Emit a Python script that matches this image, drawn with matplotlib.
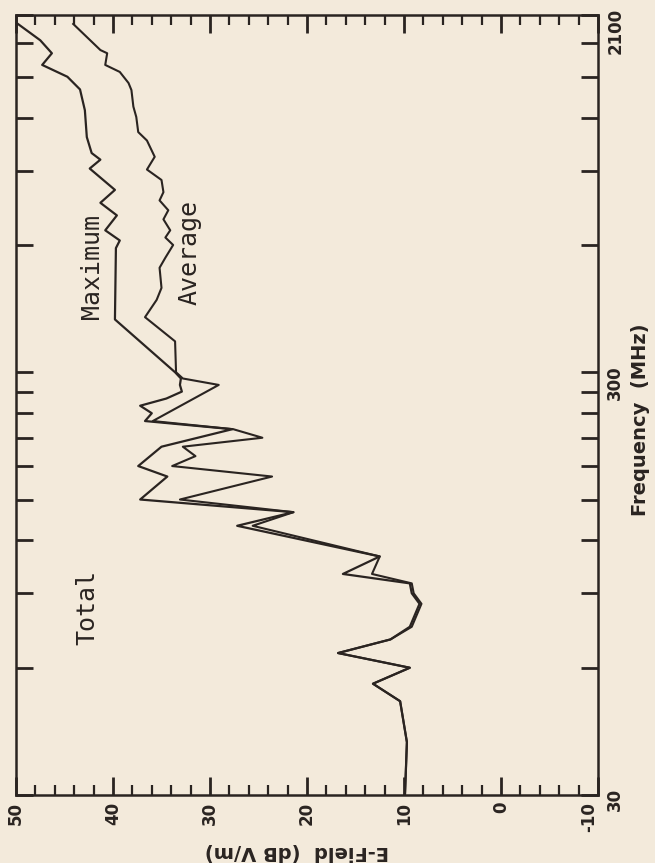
import matplotlib

matplotlib.use("Agg")
import matplotlib.pyplot as plt
from matplotlib.ticker import FixedLocator, NullLocator

# frequency (MHz) / E-field (dB V/m)
FREQ_MAX = [30, 40, 50, 55, 60, 65, 70, 75, 85, 90, 95, 100, 110, 130, 140, 150, 170, 180, 200, 220,
            230, 240, 250, 260, 270, 280, 290, 300, 400, 590, 615, 650, 705, 755, 810, 910, 955, 990,
            1080, 1250, 1400, 1500, 1600, 1705, 1830, 2000]
E_MAX = [9.9, 9.7, 10.4, 13.2, 9.4, 16.8, 11.4, 9.4, 8.4, 9.2, 9.4, 16.3, 12.5, 27.2, 21.4, 37.2, 34.4, 37.4, 35.0, 27.7,
         36.7, 36.0, 37.2, 34.5, 32.9, 33.1, 33.0, 33.6, 39.8, 39.7, 39.3, 40.8, 39.6, 41.3, 39.8, 42.4, 41.3, 42.2,
         42.7, 42.9, 43.4, 44.7, 47.3, 46.3, 47.5, 49.8]

FREQ_AVG = [30, 40, 50, 55, 60, 65, 70, 75, 85, 90, 95, 100, 110, 130, 140, 150, 170, 180, 190, 200, 210, 220,
            230, 280, 290, 300, 355, 380, 405, 445, 475, 530, 560, 600, 625, 650, 690, 725, 765, 800, 855, 905,
            970, 1060, 1110, 1205, 1275, 1395, 1450, 1540, 1600, 1705, 1735, 2000]
E_AVG = [9.9, 9.7, 10.4, 13.2, 9.4, 16.8, 11.4, 9.2, 8.2, 9.0, 9.2, 13.3, 12.5, 25.6, 21.4, 33.1, 23.6, 33.9, 31.5, 32.8, 24.6, 27.6,
         35.9, 29.1, 32.8, 33.5, 33.6, 35.2, 36.7, 35.5, 35.0, 35.2, 34.6, 33.8, 34.6, 34.1, 34.8, 34.3, 35.2, 34.8, 35.0, 36.5,
         35.7, 36.5, 37.4, 37.6, 37.9, 38.1, 38.4, 39.3, 40.8, 40.6, 41.3, 44.1]

E_TICKS = [50, 40, 30, 20, 10, 0, -10]
FREQ_TICKS = [30, 60, 90, 120, 150, 180, 210, 240, 270, 300, 600, 900, 1200, 1500, 1800, 2100]
FREQ_LABELS = {30: "30", 300: "300", 2100: "2100"}

INK = "#2a2421"
PAPER = "#f3eadb"
W, H = 655, 863

fig = plt.figure(figsize=(W / 100, H / 100), dpi=100)
fig.patch.set_facecolor(PAPER)
# page is turned a quarter: E-field runs along the bottom, frequency up the right side
ax = fig.add_axes([16 / W, 1 - 795 / H, (598 - 16) / W, (795 - 15) / H])
ax.set_facecolor(PAPER)

ax.plot(E_MAX, FREQ_MAX, color=INK, linewidth=1.6)
ax.plot(E_AVG, FREQ_AVG, color=INK, linewidth=1.5)

ax.set_yscale("log")
ax.set_xlim(50, -10)
ax.set_ylim(30, 2100)

ax.xaxis.set_major_locator(FixedLocator(E_TICKS))
ax.xaxis.set_minor_locator(FixedLocator(list(range(-10, 51, 2))))
ax.yaxis.set_major_locator(FixedLocator(FREQ_TICKS))
ax.yaxis.set_minor_locator(NullLocator())

tick_font = dict(family="DejaVu Sans", weight="bold", size=12)
ax.set_xticklabels([str(v) for v in E_TICKS], rotation=90, color=INK, **tick_font)
ax.set_yticklabels([FREQ_LABELS.get(v, "") for v in FREQ_TICKS], rotation=90, color=INK, **tick_font)

xlabels = ax.get_xticklabels()
xlabels[-1].set_ha("right")
for lab in ax.get_yticklabels():
    lab.set_va("center")
ax.get_yticklabels()[-1].set_va("top")

ax.tick_params(axis="both", which="both", direction="in", top=True, bottom=True, left=True, right=True,
               labelleft=False, labelright=True, labeltop=False, labelbottom=True, color=INK)
ax.tick_params(axis="x", which="major", length=13, width=2.0, pad=5)
ax.tick_params(axis="x", which="minor", length=7, width=1.6)
ax.tick_params(axis="y", which="major", length=12, width=2.0, pad=6)

for s in ax.spines.values():
    s.set_color(INK)
    s.set_linewidth(1.8)

note_font = dict(family="DejaVu Sans Mono", size=18, color=INK, rotation=90, ha="center", va="center")
ax.text(0.122, 0.240, "Total", transform=ax.transAxes, **note_font)
ax.text(0.130, 0.677, "Maximum", transform=ax.transAxes, **note_font)
ax.text(0.299, 0.695, "Average", transform=ax.transAxes, **note_font)

fig.text(640 / W, 1 - 420 / H, "Frequency  (MHz)", rotation=90, ha="center", va="center", color=INK,
         family="DejaVu Sans", weight="bold", size=14)
fig.text(297 / W, 1 - 851 / H, "E-Field  (dB V/m)", rotation=180, ha="center", va="center", color=INK,
         family="DejaVu Sans", weight="bold", size=14)

fig.savefig("out.png", dpi=100, facecolor=PAPER)
plt.close(fig)
